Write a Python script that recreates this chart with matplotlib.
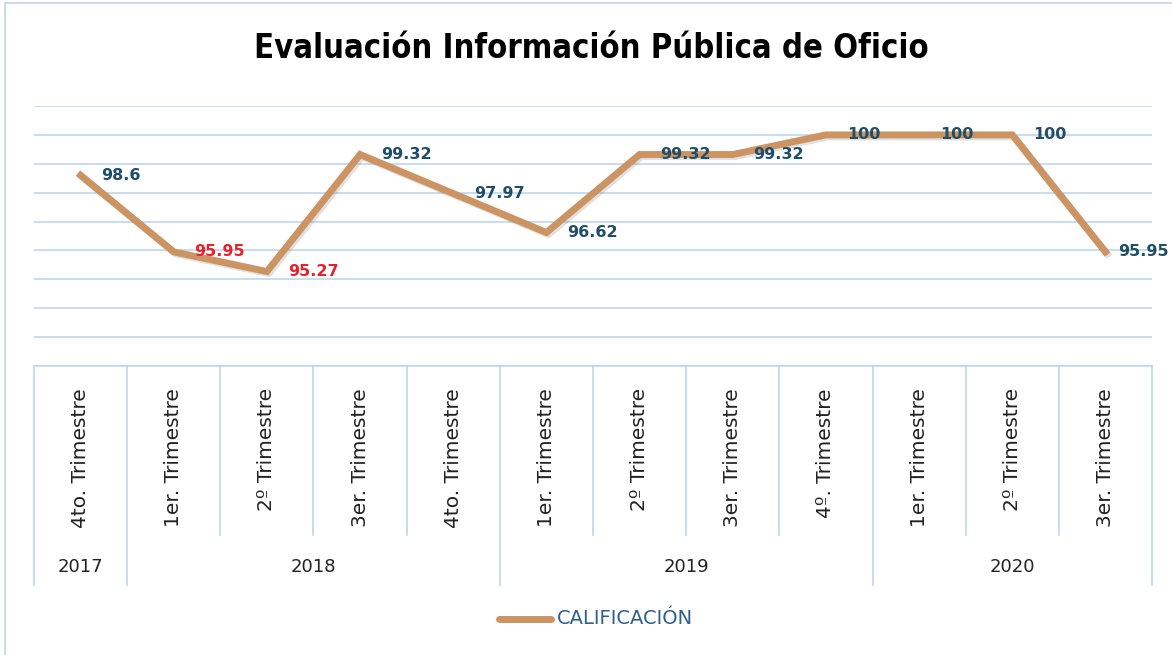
import matplotlib
matplotlib.use('Agg')
import matplotlib.pyplot as plt
import matplotlib.patheffects as pe
from matplotlib.transforms import blended_transform_factory
import numpy as np

# data
quarters = ['4to. Trimestre', '1er. Trimestre', '2º Trimestre', '3er. Trimestre', '4to. Trimestre',
            '1er. Trimestre', '2º Trimestre', '3er. Trimestre', '4º. Trimestre',
            '1er. Trimestre', '2º Trimestre', '3er. Trimestre']
years = ['2017', '2018', '2019', '2020']
year_sizes = [1, 4, 4, 3]
calificacion = [98.6, 95.95, 95.27, 99.32, 97.97, 96.62, 99.32, 99.32, 100, 100, 100, 95.95]
label_colors = ['#1F4E6B', '#E8202A', '#E8202A', '#1F4E6B', '#1F4E6B', '#1F4E6B',
                '#1F4E6B', '#1F4E6B', '#1F4E6B', '#1F4E6B', '#1F4E6B', '#1F4E6B']

line_color = '#CC9462'
grid_color = '#BDD7EE'

W, H = 1172, 655
fig = plt.figure(figsize=(W / 100, H / 100), dpi=100)
fig.patch.set_facecolor('white')

# axes placed in pixel coords
x0, x1, ytop, ybot = 34, 1152, 106, 366
ax = fig.add_axes([x0 / W, 1 - ybot / H, (x1 - x0) / W, (ybot - ytop) / H])

x = np.arange(len(calificacion))
ax.plot(x, calificacion, color=line_color, lw=5, solid_joinstyle='miter', zorder=3,
        path_effects=[pe.SimpleLineShadow(offset=(1.5, -1.5), shadow_color='#888888', alpha=0.25),
                      pe.Normal()])

ax.set_xlim(-0.5, len(calificacion) - 0.5)
ax.set_ylim(92, 101)
ax.set_yticks(np.arange(92, 102, 1))
ax.yaxis.grid(True, color=grid_color, lw=1.2)
ax.set_axisbelow(True)
ax.tick_params(left=False, labelleft=False, bottom=False, labelbottom=False)
for s in ['left', 'right', 'top']:
    ax.spines[s].set_visible(False)
ax.spines['bottom'].set_color(grid_color)
ax.spines['bottom'].set_linewidth(1.2)

# data labels (last one pulled in a bit so it stays inside the frame)
for xi, v, c in zip(x, calificacion, label_colors):
    dx = 9 if xi == x[-1] else 15
    ax.annotate(f'{v:g}', (xi, v), xytext=(dx, 0), textcoords='offset points',
                ha='left', va='center', fontsize=11.5, fontweight='bold', color=c,
                family='DejaVu Sans', zorder=4)

# category axis (two levels)
axh = ybot - ytop
def fy(py):
    return -(py - ybot) / axh

trans = blended_transform_factory(ax.transData, ax.transAxes)
bounds = np.cumsum([0] + year_sizes) - 0.5
for i in range(len(quarters) + 1):
    b = i - 0.5
    y_end = fy(585) if b in bounds else fy(535)
    ax.plot([b, b], [0, y_end], transform=trans, color=grid_color, lw=1.2, clip_on=False)

for i, q in enumerate(quarters):
    ax.text(i, fy(388), q, transform=trans, rotation=90, ha='center', va='top',
            fontsize=14.5, color='#222222', family='DejaVu Sans')

for k, yr in enumerate(years):
    center = (bounds[k] + bounds[k + 1]) / 2
    ax.text(center, fy(567), yr, transform=trans, ha='center', va='center',
            fontsize=13, color='#222222', family='DejaVu Sans')

# title
fig.text(591 / W, 1 - 49 / H, 'Evaluación Información Pública de Oficio', ha='center', va='center',
         fontsize=23.5, fontweight='heavy', fontstretch='condensed', family='DejaVu Sans', color='black')

# legend
fig.add_artist(plt.Line2D([499 / W, 551 / W], [1 - 619 / H, 1 - 619 / H], color=line_color, lw=5,
                          solid_capstyle='round'))
fig.text(557 / W, 1 - 619 / H, 'CALIFICACIÓN', ha='left', va='center', fontsize=14,
         color='#2E5F8A', family='DejaVu Sans')

# outer frame
fig.add_artist(plt.Line2D([5 / W, 5 / W], [0, 1 - 3 / H], color=grid_color, lw=1.2))
fig.add_artist(plt.Line2D([5 / W, 1], [1 - 3 / H, 1 - 3 / H], color=grid_color, lw=1.2))

fig.savefig('out.png', dpi=100)
